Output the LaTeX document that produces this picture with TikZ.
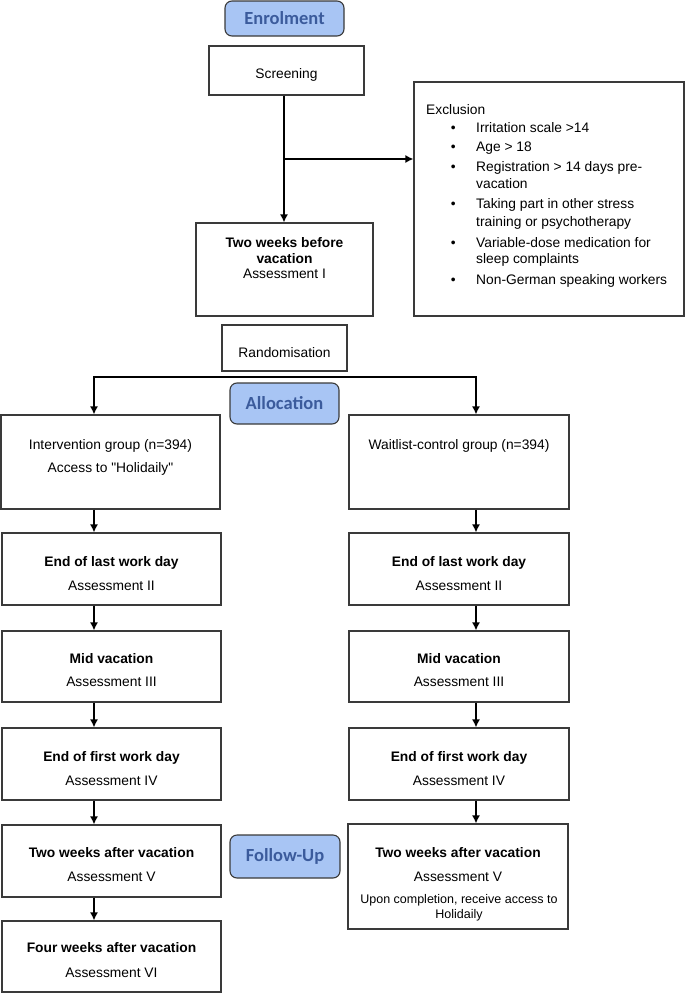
\documentclass[tikz,border=0pt]{standalone}
\usepackage{fontspec}
\setmainfont{Liberation Sans}
\newfontfamily\phasefont{Carlito}
\usetikzlibrary{arrows.meta}
\definecolor{phasefill}{HTML}{A8C5F4}
\definecolor{phasetext}{HTML}{3B5B9C}
\definecolor{boxline}{HTML}{3A3A3A}
\tikzset{
  box/.style={draw=boxline, line width=1.2pt, fill=white, inner sep=0pt},
  phase/.style={draw=boxline, line width=1.1pt, fill=phasefill, rounded corners=7pt,
    text=phasetext, font=\phasefont\bfseries\fontsize{18.5}{20}\selectfont, inner sep=0pt},
  t/.style={anchor=base, inner sep=0pt, font=\fontsize{13.8}{16}\selectfont},
  ts/.style={anchor=base, inner sep=0pt, font=\fontsize{12.5}{14}\selectfont},
  tb/.style={t, font=\fontsize{13.8}{16}\selectfont\bfseries},
  tl/.style={t, anchor=base west},
  arr/.style={draw=black, line width=1.4pt, -{Latex[length=8pt,width=8pt]}},
  arr2/.style={draw=black, line width=1.4pt, {Latex[length=8pt,width=8pt]}-{Latex[length=8pt,width=8pt]}},
}
\newcommand\mybox[6][]{\node[box,#1,minimum width={(#5-#3)*1pt},minimum height={(#6-#4)*1pt}] (#2) at ({(#3+#5)/2},{(#4+#6)/2}) {};}
\newcommand\bul{\makebox[0pt][r]{\textbullet\hspace{20.6pt}}}
\begin{document}
\begin{tikzpicture}[x=1pt,y=-1pt]
\useasboundingbox (0,0) rectangle (685,993);
% phases
\node[phase, minimum width=119pt, minimum height=35pt] (enr) at (284.5,18.5) {Enrolment};
\node[phase, minimum width=109pt, minimum height=41pt] (alloc) at (284.5,403.5) {Allocation};
\node[phase, minimum width=110pt, minimum height=43pt] (fup) at (285,856.5) {Follow-Up};
% top boxes
\mybox{scr}{209}{46}{364}{95}
\node[t] (scrt) at (286.5,78) {Screening};
\mybox{twb}{196}{223}{373}{316}
\node[tb] (twbt1) at (284.5,247) {Two weeks before};
\node[tb] (twbt2) at (284.5,263) {vacation};
\node[t] (twbt3) at (284.5,278) {Assessment I};
\mybox{excl}{414}{82}{684}{316}
\node[tl] (ex0) at (426,114) {Exclusion};
\node[tl] (ex1) at (476,132) {\bul Irritation scale >14};
\node[tl] (ex2) at (476,151) {\bul Age > 18};
\node[tl] (ex3) at (476,171) {\bul Registration > 14 days pre-};
\node[tl] (ex4) at (476,188) {vacation};
\node[tl] (ex5) at (476,208) {\bul Taking part in other stress};
\node[tl] (ex6) at (476,226) {training or psychotherapy};
\node[tl] (ex7) at (476,247) {\bul Variable-dose medication for};
\node[tl] (ex8) at (476,263) {sleep complaints};
\node[tl] (ex9) at (476,284) {\bul Non-German speaking workers};
\mybox{rand}{222}{325}{347}{371}
\node[t] (randt) at (284.5,357) {Randomisation};
% groups
\mybox{intv}{1}{415}{220}{509}
\node[t] (intvt1) at (110.5,449) {Intervention group (n=394)};
\node[t] (intvt2) at (110.5,472) {Access to \textquotedbl Holidaily\textquotedbl};
\mybox{wait}{349}{415}{569}{509}
\node[t] (waitt1) at (459,449) {Waitlist-control group (n=394)};
% left column
\mybox{elA}{2}{533}{221}{605}
\node[tb] (elAt1) at (111.5,566) {End of last work day};
\node[t] (elAt2) at (111.5,590) {Assessment II};
\mybox{mvA}{2}{631}{221}{702}
\node[tb] (mvAt1) at (111.5,663) {Mid vacation};
\node[t] (mvAt2) at (111.5,686) {Assessment III};
\mybox{efA}{2}{728}{221}{800}
\node[tb] (efAt1) at (111.5,761) {End of first work day};
\node[t] (efAt2) at (111.5,785) {Assessment IV};
\mybox{twA}{2}{825}{221}{897}
\node[tb] (twAt1) at (111.5,857) {Two weeks after vacation};
\node[t] (twAt2) at (111.5,881) {Assessment V};
\mybox{fwA}{2}{921}{221}{992}
\node[tb] (fwAt1) at (111.5,952) {Four weeks after vacation};
\node[t] (fwAt2) at (111.5,977) {Assessment VI};
% right column
\mybox{elB}{349}{533}{569}{605}
\node[tb] (elBt1) at (459,566) {End of last work day};
\node[t] (elBt2) at (459,590) {Assessment II};
\mybox{mvB}{349}{631}{569}{702}
\node[tb] (mvBt1) at (459,663) {Mid vacation};
\node[t] (mvBt2) at (459,686) {Assessment III};
\mybox{efB}{349}{728}{569}{800}
\node[tb] (efBt1) at (459,761) {End of first work day};
\node[t] (efBt2) at (459,785) {Assessment IV};
\mybox{twB}{348}{824}{568}{929}
\node[tb] (twBt1) at (458,857) {Two weeks after vacation};
\node[t] (twBt2) at (458,881) {Assessment V};
\node[ts] (twBt3) at (459,903) {Upon completion, receive access to};
\node[ts] (twBt4) at (459,918) {Holidaily};
% connectors
\coordinate (cM) at (284,0);
\coordinate (br) at (284,159);
\coordinate (cL) at (94,0);
\coordinate (cR) at (476,0);
\coordinate (sL) at (94,377);
\coordinate (sR) at (476,377);
\draw[arr] (scr.south -| cM) -- (twb.north -| cM);
\draw[arr] (br) -- (br -| excl.west);
\draw[arr2] (intv.north -| sL) -- (sL) -- (sR) -- (wait.north -| sR);
\draw[arr] (intv.south -| cL) -- (elA.north -| cL);
\draw[arr] (elA.south -| cL) -- (mvA.north -| cL);
\draw[arr] (mvA.south -| cL) -- (efA.north -| cL);
\draw[arr] (efA.south -| cL) -- (twA.north -| cL);
\draw[arr] (twA.south -| cL) -- (fwA.north -| cL);
\draw[arr] (wait.south -| cR) -- (elB.north -| cR);
\draw[arr] (elB.south -| cR) -- (mvB.north -| cR);
\draw[arr] (mvB.south -| cR) -- (efB.north -| cR);
\draw[arr] (efB.south -| cR) -- (twB.north -| cR);
\end{tikzpicture}
\end{document}
